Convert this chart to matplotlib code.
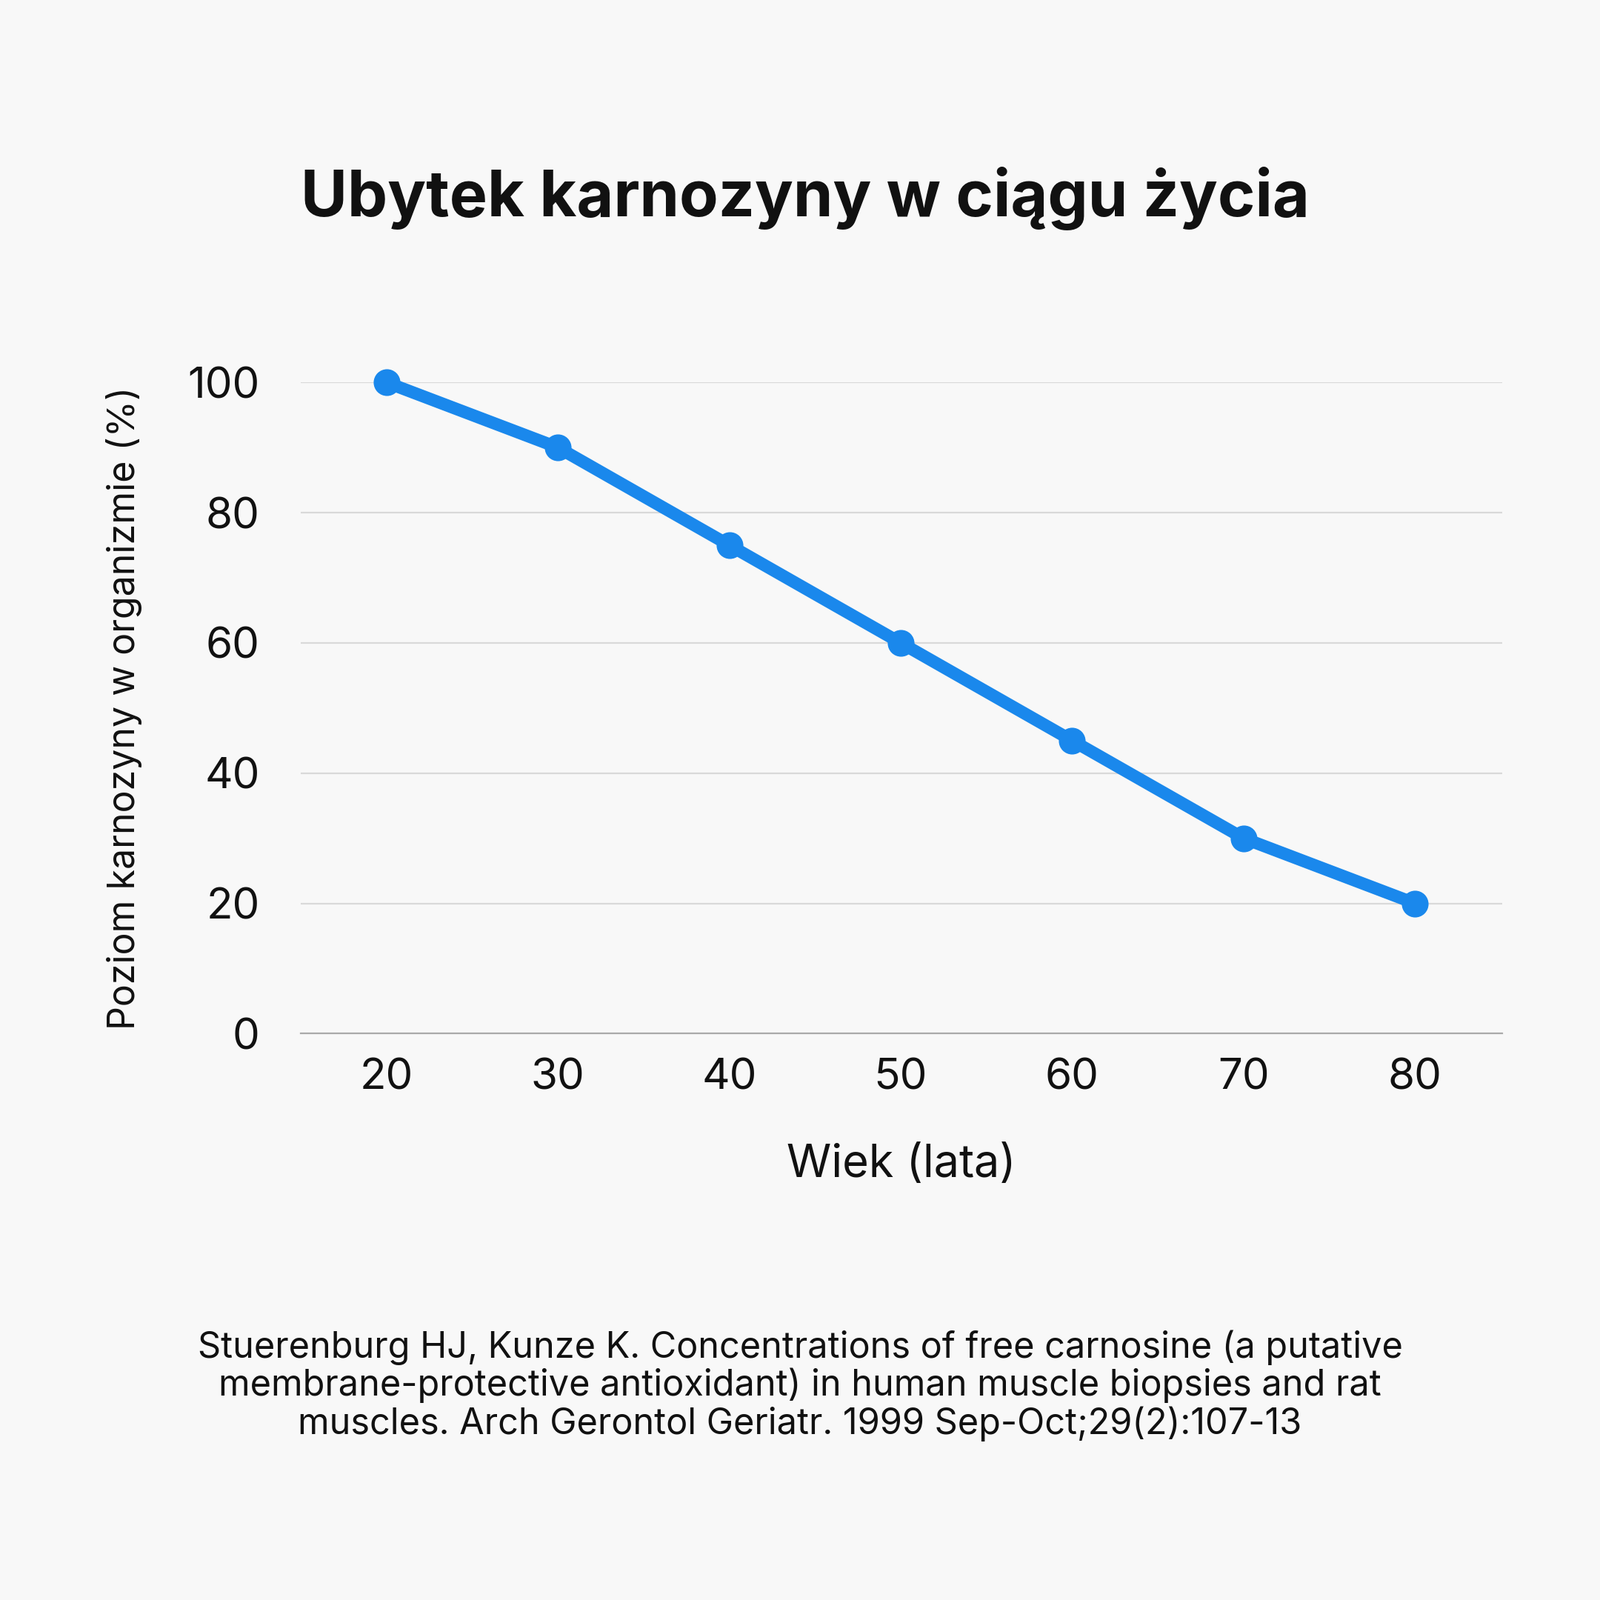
import matplotlib
matplotlib.use("Agg")
import matplotlib.pyplot as plt

ages = [20, 30, 40, 50, 60, 70, 80]
levels = [100, 90, 75, 60, 45, 30, 20]
yticks = [0, 20, 40, 60, 80, 100]

plt.rcParams["font.family"] = "Inter"
bg = "#f8f8f8"
fig = plt.figure(figsize=(10.8, 10.8), dpi=200, facecolor=bg)
ax = fig.add_axes([0.188, 0.354, 0.751, 0.407], facecolor=bg)
ax.plot(ages, levels, color="#1a88ec", lw=6, marker="o", ms=12, clip_on=False, zorder=3)
ax.set_xlim(15, 85.1)
ax.set_ylim(0, 100)
ax.set_yticks(yticks)
ax.set_xticks(ages)
ax.grid(axis="y", color="#d9d9d9", lw=0.8)
ax.set_axisbelow(True)
for s in ["top", "right", "left"]:
    ax.spines[s].set_visible(False)
ax.spines["bottom"].set_color("#aaaaaa")
ax.spines["bottom"].set_linewidth(0.8)
ax.tick_params(length=0, labelsize=21, colors="#111111", pad=12)
ax.tick_params(axis="y", pad=20)
ax.set_xlabel("Wiek (lata)", fontsize=22, labelpad=22, color="#111111")
ax.set_ylabel("Poziom karnozyny w organizmie (%)", fontsize=18, labelpad=22, color="#111111")
fig.text(0.503, 0.876, "Ubytek karnozyny w ciągu życia", ha="center", va="center",
         fontsize=31, fontweight="bold", color="#111111")
fig.text(0.5, 0.134, "Stuerenburg HJ, Kunze K. Concentrations of free carnosine (a putative\n"
         "membrane-protective antioxidant) in human muscle biopsies and rat\n"
         "muscles. Arch Gerontol Geriatr. 1999 Sep-Oct;29(2):107-13",
         ha="center", va="center", fontsize=17.5, color="#111111", linespacing=1.1)
fig.savefig("out.png", facecolor=bg)
